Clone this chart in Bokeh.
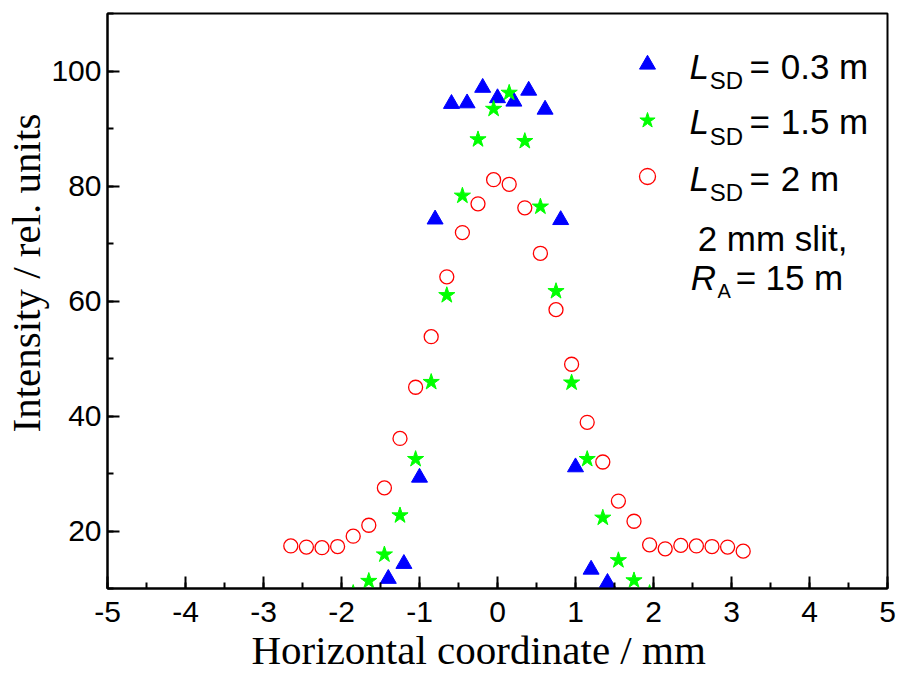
import math
from bokeh.plotting import figure
from bokeh.models import Range1d, SingleIntervalTicker, Label, Legend, LegendItem, Title
from bokeh.embed import file_html
from bokeh.resources import INLINE

# ---- data ----
tri_x = [-1.40, -1.20, -1.00, -0.80, -0.59, -0.39, -0.19, 0.00, 0.21, 0.40, 0.61, 0.81, 1.00, 1.20, 1.41]
tri_y = [11.7, 14.3, 29.3, 74.2, 94.3, 94.4, 97.1, 95.3, 94.7, 96.6, 93.3, 74.1, 31.1, 13.3, 11.0]

star_x = [-1.85, -1.65, -1.45, -1.25, -1.05, -0.85, -0.65, -0.45, -0.25, -0.05, 0.15, 0.35,
          0.55, 0.75, 0.95, 1.15, 1.35, 1.55, 1.75, 1.95]
star_y = [9.2, 11.3, 15.9, 22.7, 32.5, 45.9, 61.0, 78.3, 88.1, 93.4, 96.2, 87.8,
          76.4, 61.7, 45.8, 32.5, 22.3, 14.9, 11.4, 9.2]

circ_x = [-2.65, -2.45, -2.25, -2.05, -1.85, -1.65, -1.45, -1.25, -1.05, -0.85, -0.65, -0.45,
          -0.25, -0.05, 0.15, 0.35, 0.55, 0.75, 0.95, 1.15, 1.35, 1.55, 1.75, 1.95,
          2.15, 2.35, 2.55, 2.75, 2.95, 3.15]
circ_y = [17.4, 17.2, 17.1, 17.3, 19.1, 21.0, 27.5, 36.1, 45.0, 53.8, 64.2, 71.9,
          76.9, 81.1, 80.3, 76.2, 68.3, 58.5, 49.0, 38.9, 32.0, 25.2, 21.7, 17.6,
          16.9, 17.5, 17.4, 17.3, 17.2, 16.5]

x_ticks = [-5, -4, -3, -2, -1, 0, 1, 2, 3, 4, 5]
x_tick_labels = ["-5", "-4", "-3", "-2", "-1", "0", "1", "2", "3", "4", "5"]

series_values = ["0.3 m", "1.5 m", "2 m"]
x_title = "Horizontal coordinate / mm"
y_title = "Intensity / rel. units"

SANS = "Liberation Sans"
NARROW = "Liberation Sans Narrow, Liberation Sans"
SERIF = "Liberation Serif"

p = figure(width=898, height=677, output_backend="svg", toolbar_location=None,
           x_range=Range1d(-5, 5), y_range=Range1d(10, 110),
           min_border_left=107, min_border_right=11, min_border_top=13, min_border_bottom=89)
p.xgrid.grid_line_color = None
p.ygrid.grid_line_color = None
p.outline_line_color = "black"
p.outline_line_width = 2
p.background_fill_color = "white"
p.border_fill_color = "white"

p.xaxis.ticker = SingleIntervalTicker(interval=1, num_minor_ticks=2)
p.yaxis.ticker = SingleIntervalTicker(interval=20, num_minor_ticks=2)
p.xaxis.major_label_overrides = {t: s for t, s in zip(x_ticks, x_tick_labels)}

for ax in (p.xaxis[0], p.yaxis[0]):
    ax.major_tick_in = 12
    ax.major_tick_out = 0
    ax.minor_tick_in = 6
    ax.minor_tick_out = 0
    ax.major_tick_line_width = 2
    ax.minor_tick_line_width = 2
    ax.axis_line_width = 2
    ax.major_tick_line_color = "black"
    ax.minor_tick_line_color = "black"
    ax.axis_line_color = "black"
    ax.major_label_text_font = NARROW
    ax.major_label_text_font_size = "30px"
    ax.major_label_text_color = "black"
p.xaxis.major_label_standoff = 13
p.yaxis.major_label_standoff = 6

r_tri = p.scatter(tri_x, tri_y, marker="triangle", size=16, fill_color="#0000ff",
                  line_color="#0000ff", line_width=1)
r_star = p.scatter(star_x, star_y, marker="star", size=17, fill_color="#00ff00",
                   line_color="#00ff00", line_width=1)
r_circ = p.scatter(circ_x, circ_y, marker="circle", size=14, fill_color=None,
                   line_color="#ff0000", line_width=1.3)

legend = Legend(items=[LegendItem(label=" ", renderers=[r_tri]),
                       LegendItem(label=" ", renderers=[r_star]),
                       LegendItem(label=" ", renderers=[r_circ])],
                location=(520, 392), orientation="vertical",
                glyph_width=40, glyph_height=40, label_height=40, spacing=16,
                padding=0, margin=0, border_line_alpha=0, background_fill_alpha=0,
                label_text_font_size="10px")
p.add_layout(legend)

def lab(x, y, text, size, style="normal", font=SANS):
    p.add_layout(Label(x=x, y=y, text=text, text_font=font, text_font_size=size,
                       text_font_style=style, text_align="left", text_baseline="alphabetic",
                       text_color="black"))

# legend texts
row_base = [100.81, 91.14, 81.36]
for yb, val in zip(row_base, series_values):
    lab(2.463, yb, "L", "35px", "italic")
    lab(2.720, yb - 2.5, "SD", "24px")
    lab(3.232, yb, "=", "35px")
    lab(3.631, yb, val, "35px")

lab(2.566, 70.88, "2 mm slit,", "35px")
lab(2.476, 64.05, "R", "35px", "italic")
lab(2.822, 61.74, "A", "20px")
lab(3.053, 64.05, "=", "35px")
lab(3.435, 64.05, "15 m", "35px")

# axis titles
p.add_layout(Title(text=x_title, align="left", offset=144, standoff=0,
                   text_font=SERIF, text_font_size="41px", text_font_style="normal",
                   text_color="black"), "below")
p.add_layout(Title(text=y_title, align="left", offset=156, standoff=0,
                   text_font=SERIF, text_font_size="41px", text_font_style="normal",
                   text_color="black"), "left")

open("out.html", "w").write(file_html(p, INLINE))
